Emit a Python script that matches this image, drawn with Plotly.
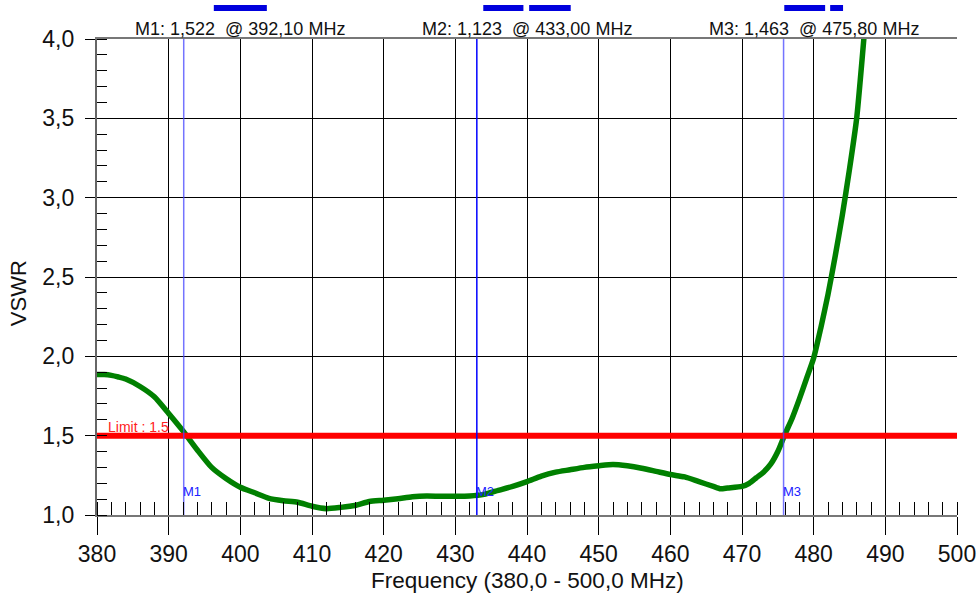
import plotly.graph_objects as go

# ---- data ----
freq_mhz = [380, 381, 382, 383, 384, 386, 388, 390, 392, 394, 396, 398, 400, 402, 404,
            406, 408, 410, 412, 414, 416, 418, 420, 422, 424, 426, 428, 430, 432, 434,
            436, 438, 440, 442, 444, 446, 448, 450, 452, 454, 456, 458, 460, 462, 464,
            466, 467, 468, 470, 471, 472, 473, 474, 475, 476, 477, 478, 479, 480, 481,
            482, 483, 484, 485, 486, 486.5, 487, 487.5]
vswr = [1.885, 1.885, 1.88, 1.87, 1.857, 1.81, 1.745, 1.64, 1.53, 1.41, 1.30, 1.23, 1.175, 1.14, 1.105,
        1.09, 1.08, 1.055, 1.04, 1.048, 1.06, 1.085, 1.093, 1.103, 1.115, 1.12, 1.118, 1.118, 1.12, 1.13,
        1.155, 1.18, 1.21, 1.245, 1.27, 1.285, 1.30, 1.31, 1.318, 1.31, 1.295, 1.275, 1.255, 1.24, 1.21,
        1.18, 1.165, 1.17, 1.18, 1.20, 1.235, 1.27, 1.32, 1.40, 1.51, 1.61, 1.73, 1.86, 1.99, 2.18,
        2.39, 2.63, 2.89, 3.18, 3.5, 3.74, 4.0, 4.28]

limit_value = 1.5
marker_names = ["M1", "M2", "M3"]
marker_freqs = [392.10, 433.00, 475.80]
marker_vswr = [1.522, 1.123, 1.463]
marker_colors = ["rgba(70,70,255,0.75)", "rgb(0,0,255)", "rgba(70,70,255,0.75)"]
label_slots = [400, 440, 480]

x_range = [380, 500]
y_range = [1.0, 4.0]

FONT = "Arial, Liberation Sans, sans-serif"


def comma(v, nd):
    return f"{v:.{nd}f}".replace(".", ",")


fig = go.Figure()

# VSWR curve
fig.add_trace(go.Scatter(x=freq_mhz, y=vswr, mode="lines",
                         line=dict(color="#008000", width=5.5, shape="spline", smoothing=0.6),
                         hoverinfo="skip"))

# limit line
fig.add_trace(go.Scatter(x=x_range, y=[limit_value, limit_value], mode="lines",
                         line=dict(color="#ff0000", width=6), hoverinfo="skip"))

# marker lines
for name, f, c in zip(marker_names, marker_freqs, marker_colors):
    fig.add_trace(go.Scatter(x=[f, f], y=y_range, mode="lines",
                             line=dict(color=c, width=1.5), hoverinfo="skip"))

annotations = []
# marker readouts on top
for name, f, v, slot in zip(marker_names, marker_freqs, marker_vswr, label_slots):
    annotations.append(dict(
        x=slot, y=1.0, xref="x", yref="paper", xanchor="center", yanchor="bottom",
        text=f"{name}: {comma(v, 3)} \u00a0@ {comma(f, 2)} MHz", showarrow=False,
        font=dict(family=FONT, size=18, color="#111111"), yshift=-2))
    # small marker labels near the bottom
    annotations.append(dict(
        x=f, y=y_range[0], xref="x", yref="y", xanchor="left", yanchor="bottom",
        text=name, showarrow=False, xshift=-3, yshift=14,
        font=dict(family=FONT, size=13, color="#2020ff")))

annotations.append(dict(
    x=x_range[0], y=limit_value, xref="x", yref="y", xanchor="left", yanchor="bottom",
    text="Limit : 1.5", showarrow=False, xshift=9, yshift=-1,
    font=dict(family=FONT, size=14, color="#ff2020")))

# axis titles
annotations.append(dict(x=0.5, y=-0.1366, xref="paper", yref="paper", xanchor="center",
                        yanchor="middle", text="Frequency (380,0 - 500,0 MHz)", showarrow=False,
                        font=dict(family=FONT, size=22.5, color="#111111")))
annotations.append(dict(x=-0.0919, y=0.466, xref="paper", yref="paper", xanchor="center",
                        yanchor="middle", text="VSWR", textangle=-90, showarrow=False,
                        font=dict(family=FONT, size=22, color="#111111")))

# blue flag bars above the readouts
flag_bars = [(396.3, 403.7), (433.9, 439.5), (440.3, 446.1), (475.9, 481.6), (482.3, 484.1)]
shapes = []
for x0, x1 in flag_bars:
    shapes.append(dict(type="rect", xref="x", yref="paper", x0=x0, x1=x1,
                       y0=1.0588, y1=1.0714, fillcolor="#0000dd", line=dict(width=0)))

fig.update_layout(
    width=979, height=596,
    margin=dict(l=97, r=22, t=39, b=81, autoexpand=False),
    paper_bgcolor="white", plot_bgcolor="white",
    showlegend=False,
    separators=",.",
    annotations=annotations,
    shapes=shapes,
    font=dict(family=FONT, size=22, color="#111111"),
)

fig.update_xaxes(
    range=x_range, dtick=10, tick0=380, automargin=False,
    showgrid=True, gridcolor="black", gridwidth=1,
    ticks="outside", ticklen=18, tickcolor="black", tickwidth=1,
    showline=True, linecolor="#777777", linewidth=1.5, mirror=True,
    zeroline=False,
    tickfont=dict(family=FONT, size=23, color="#111111"),
    minor=dict(dtick=2, ticks="inside", ticklen=13, tickcolor="black", tickwidth=1, showgrid=False),
)
fig.update_yaxes(
    range=y_range, dtick=0.5, tick0=1.0, tickformat=".1f", automargin=False,
    ticksuffix="\u00a0",
    showgrid=True, gridcolor="black", gridwidth=1,
    ticks="outside", ticklen=10, tickcolor="black", tickwidth=1,
    showline=True, linecolor="#666666", linewidth=1.5,
    zeroline=False,
    tickfont=dict(family=FONT, size=23, color="#111111"),
    minor=dict(dtick=0.1, ticks="inside", ticklen=10, tickcolor="black", tickwidth=1, showgrid=False),
)

fig.write_html("out.html", config={"displayModeBar": False},
               post_script="document.body.style.margin='0px';document.body.style.overflow='hidden';")
